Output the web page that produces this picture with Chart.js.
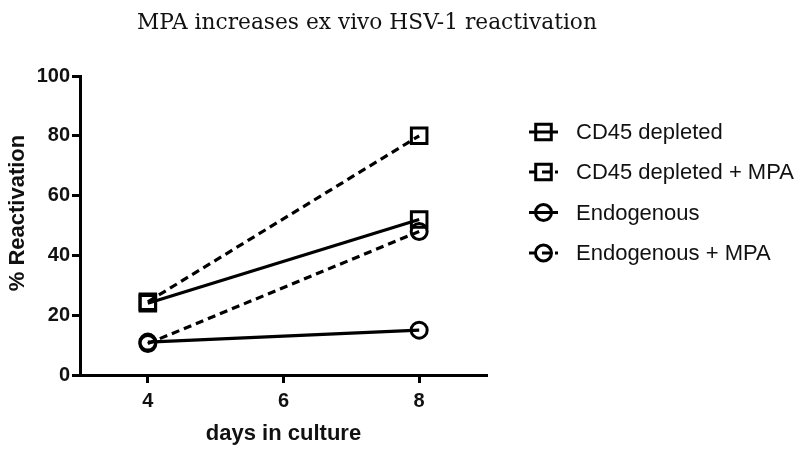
<!DOCTYPE html>
<html>
<head>
<meta charset="utf-8">
<title>MPA increases ex vivo HSV-1 reactivation</title>
<script src="https://cdn.jsdelivr.net/npm/chart.js@4.4.1/dist/chart.umd.min.js"></script>
<style>
    html, body { margin: 0; padding: 0; background: #fff; }
    #wrap { position: relative; width: 800px; height: 453px; }
</style>
</head>
<body>
<div id="wrap"><canvas id="reactivationChart" width="800" height="453"></canvas></div>
<script>
// Data
const chartTitle = 'MPA increases ex vivo HSV-1 reactivation';
const yTitle = '% Reactivation';
const days = [4, 8];
const xTicks = [4, 6, 8];
const yTicks = [0, 20, 40, 60, 80, 100];
const seriesNames = ['CD45 depleted', 'CD45 depleted + MPA', 'Endogenous', 'Endogenous + MPA'];
const cd45Depleted = [24, 52];
const cd45DepletedMpa = [24.5, 80];
const endogenous = [11, 15];
const endogenousMpa = [10.5, 48];

const FONT = "'Liberation Sans', Arial, sans-serif";
const DASH = [8, 5];

function series(label, values, style, dashed) {
    return {
        label: label,
        data: days.map((d, i) => ({ x: d, y: values[i] })),
        borderColor: '#000',
        borderWidth: 3.2,
        borderDash: dashed ? DASH : [],
        pointStyle: style,
        pointRadius: style === 'rect' ? 11 : 8,
        pointHoverRadius: style === 'rect' ? 11 : 8,
        pointBorderWidth: 3,
        pointBorderColor: '#000',
        pointBackgroundColor: 'rgba(0,0,0,0)',
        fill: false,
        tension: 0
    };
}

/**
 * Title, y axis title and legend placed where the figure has them
 */
const figureText = {
    id: 'figureText',
    afterDraw(chart) {
        const ctx = chart.ctx;
        ctx.save();

        // title, fitted to the measured width
        let size = 20;
        ctx.font = size + "px 'DejaVu Serif', serif";
        const w = ctx.measureText(chartTitle).width;
        size = size * 460 / w;
        ctx.font = size.toFixed(2) + "px 'DejaVu Serif', serif";
        ctx.fillStyle = '#111';
        ctx.textAlign = 'center';
        ctx.textBaseline = 'middle';
        ctx.fillText(chartTitle, 367, 23);

        // y axis title (sits a little above the plot centre in the figure)
        ctx.save();
        ctx.translate(18, 213);
        ctx.rotate(-Math.PI / 2);
        ctx.font = 'bold 22px ' + FONT;
        ctx.fillText(yTitle, 0, 0);
        ctx.restore();

        // legend
        const rowY = [132, 172, 212.5, 253];
        chart.data.datasets.forEach((ds, i) => {
            const y = rowY[i];
            ctx.strokeStyle = '#000';
            ctx.lineWidth = 3;
            ctx.setLineDash(ds.borderDash);
            ctx.beginPath();
            ctx.moveTo(529, y);
            ctx.lineTo(558, y);
            ctx.stroke();
            ctx.setLineDash([]);
            ctx.beginPath();
            if (ds.pointStyle === 'rect') {
                const s = ds.pointRadius * Math.SQRT1_2;
                ctx.rect(543.5 - s, y - s, 2 * s, 2 * s);
            } else {
                ctx.arc(543.5, y, ds.pointRadius, 0, Math.PI * 2);
            }
            ctx.stroke();

            ctx.fillStyle = '#111';
            ctx.textAlign = 'left';
            ctx.font = '22px ' + FONT;
            ctx.fillText(ds.label, 576, y + 1);
        });
        ctx.restore();
    }
};

const ctx = document.getElementById('reactivationChart');

new Chart(ctx, {
    type: 'line',
    data: {
        datasets: [
            series(seriesNames[0], cd45Depleted, 'rect', false),
            series(seriesNames[1], cd45DepletedMpa, 'rect', true),
            series(seriesNames[2], endogenous, 'circle', false),
            series(seriesNames[3], endogenousMpa, 'circle', true)
        ]
    },
    options: {
        responsive: false,
        animation: false,
        layout: {
            padding: { top: 76, right: 313, bottom: 0, left: 0 }
        },
        plugins: {
            legend: { display: false },
            title: { display: false },
            tooltip: { enabled: false }
        },
        scales: {
            x: {
                type: 'linear',
                min: 3,
                max: 9,
                afterBuildTicks: (scale) => { scale.ticks = xTicks.map(v => ({ value: v })); },
                afterFit: (scale) => { scale.height = 78; },
                border: { display: true, color: '#000', width: 3 },
                grid: { drawOnChartArea: false, drawTicks: true, tickLength: 8, tickWidth: 3, tickColor: '#000' },
                ticks: { color: '#111', padding: 6, font: { family: FONT, size: 20, weight: 'bold' } },
                title: {
                    display: true,
                    text: 'days in culture',
                    color: '#111',
                    padding: { top: 0, bottom: 6 },
                    font: { family: FONT, size: 22, weight: 'bold' }
                }
            },
            y: {
                min: 0,
                max: 100,
                afterBuildTicks: (scale) => { scale.ticks = yTicks.map(v => ({ value: v })); },
                afterFit: (scale) => { scale.width = 80; },
                border: { display: true, color: '#000', width: 3 },
                grid: { drawOnChartArea: false, drawTicks: true, tickLength: 8, tickWidth: 3, tickColor: '#000' },
                ticks: { color: '#111', padding: 2, font: { family: FONT, size: 20, weight: 'bold' } }
            }
        }
    },
    plugins: [figureText]
});
</script>
</body>
</html>
